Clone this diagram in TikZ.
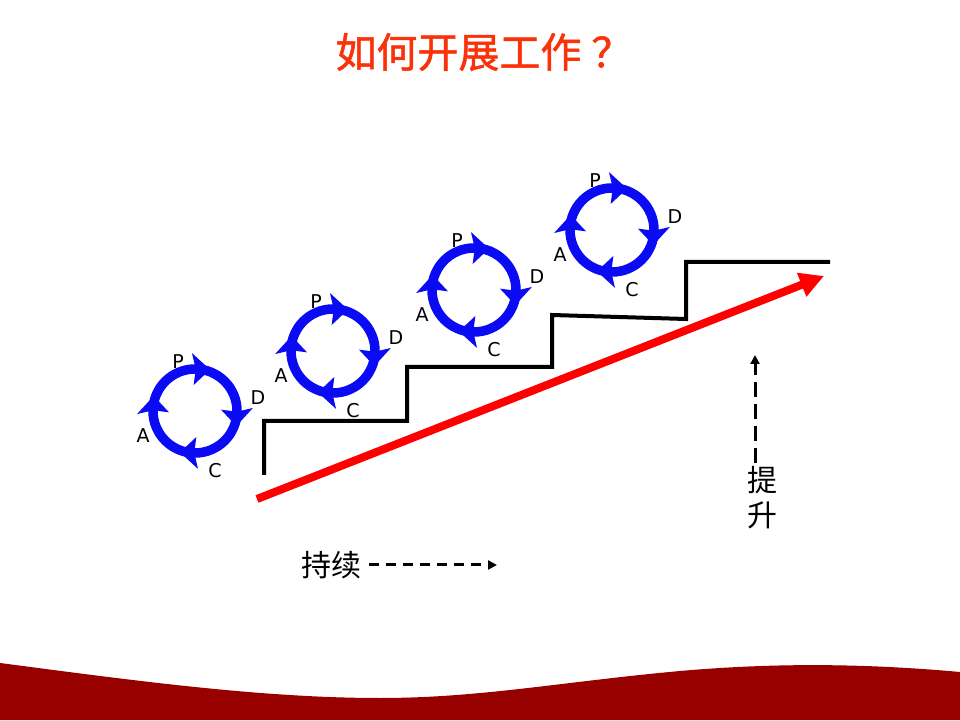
\documentclass[tikz,border=0pt]{standalone}
\usepackage{fontspec}
\setmainfont{DejaVu Sans}
\newfontfamily\cjk{Noto Sans CJK SC}
\newfontfamily\cjktitle[FakeBold=1.2]{Noto Sans CJK SC}
\usetikzlibrary{arrows.meta}
\definecolor{titlered}{RGB}{250,50,10}
\definecolor{wavered}{RGB}{152,0,0}
\definecolor{ringblue}{RGB}{10,10,245}
\definecolor{arrowred}{RGB}{255,0,0}
\tikzset{
  ringline/.style={draw=ringblue, line width=9.5pt},
  ringtip/.style={fill=ringblue},
  pdcalab/.style={font=\fontsize{19}{19}\selectfont, inner sep=0pt},
  stairline/.style={line width=4pt, line join=miter},
  cjklab/.style={font=\cjk\fontsize{30}{35}\selectfont, inner sep=0pt},
  dashline/.style={line width=3pt, dash pattern=on 10pt off 7pt},
}
\newcommand{\pdcacycle}[2]{%
  \begin{scope}[shift={#2}]
    \coordinate (#1) at (0,0);
    \draw[ringline] (0,0) circle[radius=42];
    \foreach \p in {90,0,-90,180} {
      \fill[ringtip] (\p-20:44) -- (\p+3:58) -- (\p-1:42) -- (\p+3:26) -- cycle;
    }
    \node[pdcalab] (#1P) at (-17,49) {P};
    \node[pdcalab] (#1D) at (63,13) {D};
    \node[pdcalab] (#1A) at (-52,-25) {A};
    \node[pdcalab] (#1C) at (20,-60) {C};
  \end{scope}}
\begin{document}
\begin{tikzpicture}[x=1pt,y=1pt]
  \useasboundingbox (0,0) rectangle (960,720);
  \fill[white] (0,0) rectangle (960,720);
  % bottom wave
  \fill[wavered] (0,0) -- (0,57) .. controls (130,40) and (260,22) .. (380,22)
     .. controls (480,22) and (560,38) .. (680,49)
     .. controls (760,56) and (850,58) .. (960,48) -- (960,0) -- cycle;
  % title
  \node[font=\cjktitle\fontsize{41}{41}\selectfont, text=titlered, inner sep=0pt] (title) at (484,668) {如何开展工作\kern10pt？};
  % staircase
  \draw[stairline] (264,245) -- (264,299) -- (407,299) -- (407,353) -- (552,353) -- (552,405) -- (686,401) -- (686,458) -- (830,458);
  % red arrow
  \coordinate (redS) at (257,221);
  \coordinate (redE) at (824,444);
  \draw[arrowred, line width=8pt, -{Triangle[length=24pt,width=24pt]}] (redS) -- (redE);
  % PDCA cycles
  \pdcacycle{c1}{(195,309)}
  \pdcacycle{c2}{(333,369)}
  \pdcacycle{c3}{(474,430)}
  \pdcacycle{c4}{(612,490)}
  % sustain
  \node[cjklab] (chixu) at (331,155) {持续};
  \coordinate (hS) at (369,155);
  \coordinate (hE) at (497,155);
  \draw[dashline, -{Triangle[length=9pt,width=9pt]}] (hS) -- (hE);
  % improve
  \node[cjklab, align=center] (tisheng) at (762,222) {提\\升};
  \coordinate (vS) at (755,257);
  \coordinate (vE) at (755,365);
  \draw[line width=3pt, dash pattern=on 15pt off 7pt, -{Triangle[length=9pt,width=9pt]}] (vS) -- (vE);
\end{tikzpicture}
\end{document}
